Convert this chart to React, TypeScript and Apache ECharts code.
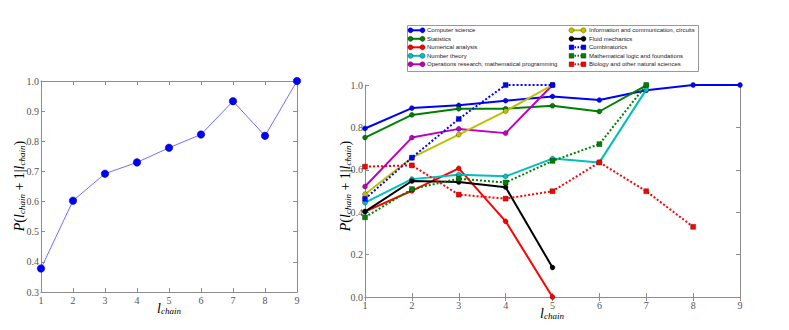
import React, { useEffect, useRef } from "react";
import * as echarts from "echarts";

const chainLengths = [1, 2, 3, 4, 5, 6, 7, 8, 9];
const xTicks = ["1", "2", "3", "4", "5", "6", "7", "8", "9"];

// left panel: all fields
const overallP = [0.378, 0.603, 0.6925, 0.73, 0.7785, 0.8226, 0.933, 0.818, 1.0];

// right panel: per field
const computerScience = [0.795, 0.891, 0.904, 0.926, 0.946, 0.929, 0.975, 1.0, 1.0];
const statistics = [0.752, 0.859, 0.888, 0.888, 0.902, 0.875, 0.998];
const numericalAnalysis = [0.403, 0.501, 0.607, 0.357, 0.0];
const numberTheory = [0.445, 0.556, 0.577, 0.569, 0.653, 0.635, 0.978];
const operationsResearch = [0.521, 0.752, 0.793, 0.773, 1.0];
const infoComm = [0.485, 0.657, 0.766, 0.877, 1.0];
const fluidMechanics = [0.403, 0.547, 0.542, 0.518, 0.139];
const combinatorics = [0.463, 0.657, 0.84, 1.0, 1.0];
const mathLogic = [0.376, 0.509, 0.558, 0.54, 0.642, 0.721, 1.0];
const biology = [0.615, 0.621, 0.483, 0.464, 0.499, 0.635, 0.499, 0.331];

const fieldNames = [
  "Computer science",
  "Statistics",
  "Numerical analysis",
  "Number theory",
  "Operations research, mathematical programming",
  "Information and communication, circuits",
  "Fluid mechanics",
  "Combinatorics",
  "Mathematical logic and foundations",
  "Biology and other natural sciences",
];
const fieldValues = [
  computerScience,
  statistics,
  numericalAnalysis,
  numberTheory,
  operationsResearch,
  infoComm,
  fluidMechanics,
  combinatorics,
  mathLogic,
  biology,
];
const fieldColors = [
  "#0000ff",
  "#008000",
  "#ff0000",
  "#00bfbf",
  "#bf00bf",
  "#bfbf00",
  "#000000",
  "#0000ff",
  "#008000",
  "#ff0000",
];
const fieldDotted = [false, false, false, false, false, false, false, true, true, true];

const yTitle = "{i|P}{n|(}{i|l}{s|chain}{n| + 1|}{i|l}{s|chain}{n|)}";
const xTitle = "{i|l}{s|chain}";

const SERIF = "'Liberation Serif', 'DejaVu Serif', serif";
const SANS = "'Liberation Sans', 'DejaVu Sans', sans-serif";
const AXIS_GRAY = "#8c8c8c";
const LABEL_GRAY = "#555";

const richName = {
  i: { fontFamily: SERIF, fontStyle: "italic", fontSize: 14, color: "#444" },
  n: { fontFamily: SERIF, fontSize: 14, color: "#444" },
  s: {
    fontFamily: SERIF,
    fontStyle: "italic",
    fontSize: 9,
    color: "#444",
    verticalAlign: "bottom",
    padding: [6, 0, 0, 0],
  },
};

function makeAxes(gridIndex: number, yMin: number, yMax: number, yInt: number) {
  const common = {
    gridIndex,
    axisLine: { show: true, lineStyle: { color: AXIS_GRAY, width: 1 } },
    axisTick: { show: true, inside: true, length: 4, lineStyle: { color: AXIS_GRAY } },
    splitLine: { show: false },
  };
  const xAxes = [
    {
      ...common,
      type: "value",
      position: "bottom",
      min: 1,
      max: 9,
      interval: 1,
      axisLabel: {
        show: true,
        margin: 3,
        fontFamily: SERIF,
        fontSize: 10,
        color: LABEL_GRAY,
        formatter: (v: number) => xTicks[Math.round(v) - 1] ?? "",
      },
    },
    {
      ...common,
      type: "value",
      position: "top",
      min: 1,
      max: 9,
      interval: 1,
      axisLabel: { show: false },
    },
  ];
  const yAxes = [
    {
      ...common,
      type: "value",
      position: "left",
      min: yMin,
      max: yMax,
      interval: yInt,
      axisLabel: {
        show: true,
        margin: 2,
        fontFamily: SERIF,
        fontSize: 10,
        color: LABEL_GRAY,
        formatter: (v: number) => v.toFixed(1),
      },
    },
    {
      ...common,
      type: "value",
      position: "right",
      min: yMin,
      max: yMax,
      interval: yInt,
      axisLabel: { show: false },
    },
  ];
  return { xAxes, yAxes };
}

function axisTitle(text: string, x: number, y: number, vertical: boolean) {
  return {
    type: "text",
    x,
    y,
    rotation: vertical ? Math.PI / 2 : 0,
    style: {
      text,
      rich: richName,
      align: "center",
      verticalAlign: "middle",
    },
    z: 50,
  };
}

function buildLegend() {
  const elements: any[] = [];
  elements.push({
    type: "rect",
    shape: { x: 407.5, y: 25.5, width: 291, height: 46 },
    style: { fill: "#fff", stroke: "#999", lineWidth: 1 },
    z: 100,
  });
  const rowY = [30.3, 38.8, 47.3, 55.8, 64.3];
  fieldNames.forEach((name, idx) => {
    const col = idx < 5 ? 0 : 1;
    const row = idx % 5;
    const y = rowY[row];
    const x0 = col === 0 ? 410.5 : 571.5;
    const x1 = x0 + 12;
    const tx = col === 0 ? 427 : 589;
    const color = fieldColors[idx];
    const dotted = fieldDotted[idx];
    elements.push({
      type: "line",
      shape: { x1: x0, y1: y, x2: x1, y2: y },
      style: { stroke: color, lineWidth: 2, lineDash: dotted ? [1.5, 1.5] : null },
      z: 101,
    });
    [x0, x1].forEach((cx) => {
      if (dotted) {
        elements.push({
          type: "rect",
          shape: { x: cx - 2.4, y: y - 2.4, width: 4.8, height: 4.8 },
          style: { fill: color, stroke: "#000", lineWidth: 0.3 },
          z: 102,
        });
      } else {
        elements.push({
          type: "circle",
          shape: { cx, cy: y, r: 2.6 },
          style: { fill: color, stroke: "#000", lineWidth: 0.3 },
          z: 102,
        });
      }
    });
    elements.push({
      type: "text",
      x: tx,
      y: y,
      style: {
        text: name,
        fill: "#222",
        fontFamily: SANS,
        fontSize: 6,
        verticalAlign: "middle",
        align: "left",
      },
      z: 102,
    });
  });
  return elements;
}

export default function App() {
  const ref = useRef<HTMLDivElement>(null);
  useEffect(() => {
    if (!ref.current) return;
    const chart = echarts.init(ref.current, null, { renderer: "svg" });
    const left = makeAxes(0, 0.3, 1.0, 0.1);
    const right = makeAxes(1, 0.0, 1.0, 0.2);

    const series: any[] = [];
    series.push({
      type: "line",
      xAxisIndex: 0,
      yAxisIndex: 0,
      data: overallP.map((v, i) => [chainLengths[i], v]),
      symbol: "circle",
      symbolSize: 7.5,
      lineStyle: { color: "#7070ff", width: 1 },
      itemStyle: { color: "#0000ff", borderColor: "#000080", borderWidth: 0.5 },
      clip: true,
    });
    fieldValues.forEach((vals, idx) => {
      const dotted = fieldDotted[idx];
      series.push({
        type: "line",
        name: fieldNames[idx],
        xAxisIndex: 2,
        yAxisIndex: 2,
        data: vals.map((v, i) => [chainLengths[i], v]),
        symbol: dotted ? "rect" : "circle",
        symbolSize: 5,
        lineStyle: { color: fieldColors[idx], width: 2, type: dotted ? [2, 2] : "solid" },
        itemStyle: { color: fieldColors[idx], borderColor: "#000", borderWidth: 0.3 },
        clip: true,
        z: 2 + idx,
      });
    });

    const graphics = [
      axisTitle(yTitle, 19, 186, true),
      axisTitle(yTitle, 345, 186, true),
      axisTitle(xTitle, 169, 308, false),
      axisTitle(xTitle, 552, 313, false),
      ...buildLegend(),
    ];

    chart.setOption({
      animation: false,
      backgroundColor: "#ffffff",
      grid: [
        { left: 41, top: 81, width: 256, height: 211 },
        { left: 365, top: 85, width: 375, height: 212 },
      ],
      xAxis: [...left.xAxes, ...right.xAxes],
      yAxis: [...left.yAxes, ...right.yAxes],
      series,
      graphic: graphics,
    });
    return () => chart.dispose();
  }, []);
  return (
    <div
      ref={ref}
      style={{ position: "fixed", left: 0, top: 0, width: 789, height: 330 }}
    />
  );
}
